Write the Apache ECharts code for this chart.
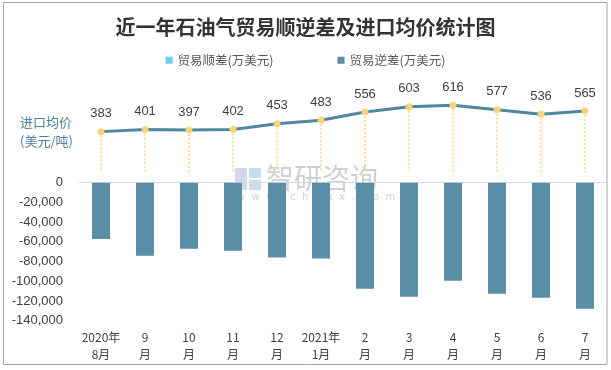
<!DOCTYPE html>
<html><head><meta charset="utf-8">
<script src="https://cdn.jsdelivr.net/npm/echarts@6/dist/echarts.min.js"></script>
<style>html,body{margin:0;padding:0;background:#fff}#c{width:611px;height:370px}</style>
</head><body><div id="c"></div>
<script>
const categories = ['2020年\n8月','9\n月','10\n月','11\n月','12\n月','2021年\n1月','2\n月','3\n月','4\n月','5\n月','6\n月','7\n月'];
const surplus = [null,null,null,null,null,null,null,null,null,null,null,null];
const deficit = [-57000,-74000,-67000,-69000,-76000,-77000,-107500,-115700,-99400,-112600,-116700,-127800];
const price = [383,401,397,402,453,483,556,603,616,577,536,565];
const barTicks = [0,-20000,-40000,-60000,-80000,-100000,-120000,-140000];

const chart = echarts.init(document.getElementById('c'));
const fmt = v => v === 0 ? '0' : v.toLocaleString('en-US');
chart.setOption({
  animation: false,
  title: {text: '近一年石油气贸易顺逆差及进口均价统计图', left: 'center', top: 12,
    textStyle: {fontFamily: 'Noto Sans CJK SC', fontSize: 20, fontWeight: 'bold', color: '#333'}},
  legend: {top: 49, left: 'center', itemWidth: 7, itemHeight: 7, itemGap: 64, icon: 'rect',
    textStyle: {fontFamily: 'Noto Sans CJK SC', fontSize: 12.5, color: '#595959'},
    data: ['贸易顺差(万美元)','贸易逆差(万美元)']},
  grid: [
    {left: 79, right: 4, top: 182.7, bottom: 49.3},
    {left: 79, right: 4, top: 84.4, bottom: 195}
  ],
  xAxis: [
    {type: 'category', gridIndex: 0, data: categories, position: 'bottom',
      axisLine: {show: false, onZero: false}, axisTick: {show: false},
      axisLabel: {interval: 0, margin: 8, fontFamily: 'Noto Sans CJK SC', fontSize: 12, color: '#404040', lineHeight: 17}},
    {type: 'category', gridIndex: 0, data: categories, position: 'top',
      axisLine: {show: true, onZero: false, lineStyle: {color: '#d9d9d9', width: 1}}, axisTick: {show: false}, axisLabel: {show: false}},
    {type: 'category', gridIndex: 1, data: categories, show: false}
  ],
  yAxis: [
    {type: 'value', gridIndex: 0, min: -140000, max: 0, interval: 20000,
      axisLine: {show: false}, axisTick: {show: false}, splitLine: {show: false},
      axisLabel: {formatter: fmt, fontFamily: 'Liberation Sans', fontSize: 13, color: '#404040', margin: 16}},
    {type: 'value', gridIndex: 1, min: 0, max: 800, show: false}
  ],
  series: [
    {name: '贸易顺差(万美元)', type: 'bar', xAxisIndex: 0, yAxisIndex: 0, data: surplus, itemStyle: {color: '#6CCBF3'}, barWidth: 18, barGap: '-100%'},
    {name: '贸易逆差(万美元)', type: 'bar', xAxisIndex: 0, yAxisIndex: 0, data: deficit, itemStyle: {color: '#5B8FA7'}, barWidth: 18},
    {name: 'drop', type: 'custom', xAxisIndex: 2, yAxisIndex: 1, data: price.map((v,i)=>[i,v]),
      renderItem: function(params, api) {
        const p1 = api.coord([api.value(0), api.value(1)]);
        const p2 = api.coord([api.value(0), 25]);
        return {type: 'line', shape: {x1: p1[0], y1: p1[1], x2: p2[0], y2: p2[1]},
          style: {stroke: '#F8D77E', lineWidth: 1.5, lineDash: [2, 2]}};
      }, z: 1},
    {name: '进口均价', type: 'line', xAxisIndex: 2, yAxisIndex: 1, data: price,
      lineStyle: {color: '#4F87A0', width: 3}, symbol: 'circle', symbolSize: 7,
      itemStyle: {color: '#F8D37A', borderWidth: 0},
      label: {show: true, position: 'top', distance: 8, fontFamily: 'Liberation Sans', fontSize: 13, color: '#404040'}, z: 3}
  ],
  graphic: [
    {type: 'rect', shape: {x: 3.5, y: 2.5, width: 603.5, height: 362}, style: {fill: 'none', stroke: '#A6A6A6', lineWidth: 1}, z: 100},
    {type: 'text', left: 20, top: 113, style: {text: '进口均价\n(美元/吨)', fill: '#4A7FA0', font: '13px "Noto Sans CJK SC"', lineHeight: 19}},
    {type: 'group', left: 235, top: 164, z: 50, children: [
      {type: 'rect', shape: {x: 0, y: 4, width: 12, height: 22}, style: {fill: 'rgba(120,150,190,0.35)'}},
      {type: 'rect', shape: {x: 14, y: 4, width: 12, height: 10}, style: {fill: 'rgba(90,160,220,0.35)'}},
      {type: 'rect', shape: {x: 14, y: 16, width: 12, height: 10}, style: {fill: 'rgba(120,150,190,0.35)'}},
      {type: 'text', x: 31, y: 0, style: {text: '智研咨询', fill: 'rgba(150,150,150,0.45)', font: '28px "Noto Sans CJK SC"'}},
      {type: 'text', x: 2, y: 28, style: {text: 'w  w  w  .  c  h  y  x  x  .  c  o  m', fill: 'rgba(150,150,150,0.45)', font: '10px "DejaVu Sans"'}}
    ]}
  ]
});
</script></body></html>
